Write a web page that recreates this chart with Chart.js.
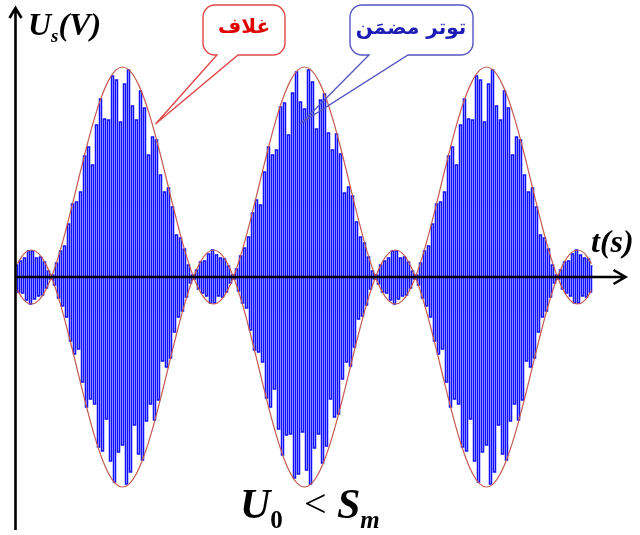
<!DOCTYPE html>
<html>
<head>
<meta charset="utf-8">
<script src="https://cdn.jsdelivr.net/npm/chart.js@4.4.1/dist/chart.umd.min.js"></script>
<style>
  html, body { margin: 0; padding: 0; background: #fff; overflow: hidden; }
  #wrap { width: 640px; height: 535px; position: relative; }
</style>
</head>
<body>
<div id="wrap"><canvas id="chart"></canvas></div>
<script>
// modulated voltage, one sample every 0.2 ms
const sigStep = 0.2;
const sigValues = [
  0.12,-0.15,0.16,-0.16,0.19,-0.23,0.26,-0.27,0.26,-0.22,
  0.19,-0.19,0.20,-0.18,0.15,-0.11,0.06,-0.02,0.02,-0.08,
  0.14,-0.21,0.26,-0.29,0.31,-0.40,0.53,-0.64,0.73,-0.77,
  0.75,-0.72,0.85,-1.05,1.21,-1.30,1.30,-1.22,1.12,-1.27,
  1.52,-1.70,1.78,-1.74,1.58,-1.42,1.57,-1.84,2.01,-2.05,
  1.97,-1.75,1.55,-1.68,1.93,-2.07,2.07,-1.95,1.71,-1.48,
  1.57,-1.77,1.86,-1.83,1.69,-1.44,1.22,-1.27,1.40,-1.43,
  1.37,-1.23,1.02,-0.84,0.85,-0.90,0.89,-0.81,0.70,-0.55,
  0.42,-0.40,0.39,-0.34,0.28,-0.20,0.12,-0.06,0.02,-0.02,
  0.07,
  -0.12,0.15,-0.16,0.16,-0.19,0.23,-0.26,0.27,-0.26,0.22,
  -0.19,0.19,-0.20,0.18,-0.15,0.11,-0.06,0.02,-0.02,0.08,
  -0.14,0.21,-0.26,0.29,-0.31,0.40,-0.53,0.64,-0.73,0.77,
  -0.75,0.72,-0.85,1.05,-1.21,1.30,-1.30,1.22,-1.12,1.27,
  -1.52,1.70,-1.78,1.74,-1.58,1.42,-1.57,1.84,-2.01,2.05,
  -1.97,1.75,-1.55,1.68,-1.93,2.07,-2.07,1.95,-1.71,1.48,
  -1.57,1.77,-1.86,1.83,-1.69,1.44,-1.22,1.27,-1.40,1.43,
  -1.37,1.23,-1.02,0.84,-0.85,0.90,-0.89,0.81,-0.70,0.55,
  -0.42,0.40,-0.39,0.34,-0.28,0.20,-0.12,0.06,-0.02,0.02,
  -0.07,
  0.12,-0.15,0.16,-0.16,0.19,-0.23,0.26,-0.27,0.26,-0.22,
  0.19,-0.19,0.20,-0.18,0.15,-0.11,0.06,-0.02,0.02,-0.08,
  0.14,-0.21,0.26,-0.29,0.31,-0.40,0.53,-0.64,0.73,-0.77,
  0.75,-0.72,0.85,-1.05,1.21,-1.30,1.30,-1.22,1.12,-1.27,
  1.52,-1.70,1.78,-1.74,1.58,-1.42,1.57,-1.84,2.01,-2.05,
  1.97,-1.75,1.55,-1.68,1.93,-2.07,2.07,-1.95,1.71,-1.48,
  1.57,-1.77,1.86,-1.83,1.69,-1.44,1.22,-1.27,1.40,-1.43,
  1.37,-1.23,1.02,-0.84,0.85,-0.90,0.89,-0.81,0.70,-0.55,
  0.42,-0.40,0.39,-0.34,0.28,-0.20,0.12,-0.06,0.02,-0.02,
  0.07,
  -0.12,0.15,-0.16,0.16,-0.19,0.23,-0.26,0.27,-0.26,0.22,
  -0.19,0.19,-0.20,0.18,-0.15,0.11
];

// envelope U0 + Sm.cos(...), one point every 0.7 ms starting at 0.1 ms
const envStart = 0.1;
const envStep = 0.7;
const envValues = [
  -0.134,-0.236,-0.270,-0.236,-0.134,0.028,0.242,0.495,0.772,1.058,1.335,1.588,1.802,
  1.964,2.066,2.100,2.066,1.964,1.802,1.588,1.335,1.058,0.772,0.495,0.242,0.028,
  -0.134,-0.236,-0.270,-0.236,-0.134,0.028,0.242,0.495,0.772,1.058,1.335,1.588,1.802,
  1.964,2.066,2.100,2.066,1.964,1.802,1.588,1.335,1.058,0.772,0.495,0.242,0.028,
  -0.134,-0.236,-0.270,-0.236,-0.134,0.028,0.242,0.495,0.772,1.058,1.335,1.588,1.802,
  1.964,2.066,2.100,2.066,1.964,1.802,1.588,1.335,1.058,0.772,0.495,0.242,0.028,
  -0.134,-0.236,-0.270,-0.236,-0.134
];

const labelEnvelope = 'غلاف';
const labelSignal = 'توتر مضمَن';

const sigPoints = sigValues.map((v, i) => ({ x: i * sigStep, y: v }));
const envTop = envValues.map((v, i) => ({ x: envStart + i * envStep, y: v }));
const envBottom = envValues.map((v, i) => ({ x: envStart + i * envStep, y: -v }));

const SERIF = '"Liberation Serif", "Times New Roman", serif';

// draws pieces of text one after the other: [text, font, baseline shift]
function textRun(ctx, x, base, parts) {
  for (const [txt, font, dy] of parts) {
    ctx.font = font;
    ctx.fillText(txt, x, base + dy);
    x += ctx.measureText(txt).width;
  }
  return x;
}

function bubble(ctx, box, a, b, tip, color) {
  const [x0, y0, x1, y1, r] = box;
  ctx.beginPath();
  ctx.moveTo(x0 + r, y0);
  ctx.lineTo(x1 - r, y0);
  ctx.arcTo(x1, y0, x1, y0 + r, r);
  ctx.lineTo(x1, y1 - r);
  ctx.arcTo(x1, y1, x1 - r, y1, r);
  ctx.lineTo(b, y1);
  ctx.lineTo(tip[0], tip[1]);
  ctx.lineTo(a, y1);
  ctx.lineTo(x0 + r, y1);
  ctx.arcTo(x0, y1, x0, y1 - r, r);
  ctx.lineTo(x0, y0 + r);
  ctx.arcTo(x0, y0, x0 + r, y0, r);
  ctx.closePath();
  ctx.strokeStyle = color;
  ctx.lineWidth = 1.4;
  ctx.stroke();
}

const decor = {
  id: 'decor',
  afterDatasetsDraw(chart) {
    const { ctx, scales: { x, y } } = chart;
    const px = v => x.getPixelForValue(v);
    const py = v => y.getPixelForValue(v);
    ctx.save();

    // axes with arrows
    ctx.strokeStyle = '#000';
    ctx.lineWidth = 2.6;
    const ax0 = px(-0.1), ax1 = px(60.9), ay = py(0);
    const yTop = py(2.69), yBot = py(-2.53);
    ctx.beginPath();
    ctx.moveTo(ax0, ay); ctx.lineTo(ax1, ay);
    ctx.moveTo(ax1 - 12, ay - 7); ctx.lineTo(ax1, ay); ctx.lineTo(ax1 - 12, ay + 7);
    ctx.moveTo(ax0, yBot); ctx.lineTo(ax0, yTop);
    ctx.moveTo(ax0 - 6, yTop + 10); ctx.lineTo(ax0, yTop); ctx.lineTo(ax0 + 6, yTop + 10);
    ctx.stroke();

    // axis titles
    ctx.fillStyle = '#000';
    ctx.textAlign = 'left';
    ctx.textBaseline = 'alphabetic';
    textRun(ctx, 28, 35, [
      ['U', `bold italic 32px ${SERIF}`, 0],
      ['s', `bold italic 19px ${SERIF}`, 7],
      ['(V)', `bold italic 32px ${SERIF}`, 0]
    ]);
    textRun(ctx, 591, 252, [
      ['t', `bold italic 32px ${SERIF}`, 0],
      ['(s)', `bold italic 32px ${SERIF}`, 0]
    ]);

    // condition under the graph
    textRun(ctx, 240, 518, [
      ['U', `bold italic 42px ${SERIF}`, 0],
      ['0', `bold 25px ${SERIF}`, 10]
    ]);
    ctx.font = `40px ${SERIF}`;
    ctx.fillText('<', 304, 517);
    textRun(ctx, 337, 518, [
      ['S', `bold italic 42px ${SERIF}`, 0],
      ['m', `bold italic 25px ${SERIF}`, 10]
    ]);

    // callouts
    bubble(ctx, [203, 5, 285, 55, 12], 217, 238, [px(13.9), py(1.53)], '#e04848');
    bubble(ctx, [350, 5, 473, 55, 12], 369, 408, [px(28.6), py(1.55)], '#5656c4');
    ctx.textAlign = 'center';
    ctx.textBaseline = 'middle';
    ctx.direction = 'rtl';
    ctx.font = 'bold 20px "DejaVu Sans", sans-serif';
    ctx.fillStyle = '#e00000';
    ctx.fillText(labelEnvelope, 244, 28);
    ctx.fillStyle = '#1c1cb4';
    ctx.fillText(labelSignal, 411, 29);

    ctx.restore();
  }
};

new Chart(document.getElementById('chart'), {
  type: 'line',
  data: {
    datasets: [
      { data: envTop, borderColor: '#c45a50', borderWidth: 1.2, pointRadius: 0, tension: 0.4 },
      { data: envBottom, borderColor: '#c45a50', borderWidth: 1.2, pointRadius: 0, tension: 0.4 },
      { data: sigPoints, borderColor: '#1010ff', borderWidth: 1.5, pointRadius: 0, stepped: 'middle' }
    ]
  },
  options: {
    responsive: true,
    maintainAspectRatio: false,
    animation: false,
    events: [],
    layout: { padding: 0 },
    scales: {
      x: { type: 'linear', min: -1.65, max: 62.35, display: false },
      y: { min: -2.58, max: 2.77, display: false }
    },
    plugins: { legend: { display: false }, tooltip: { enabled: false } }
  },
  plugins: [decor]
});
</script>
</body>
</html>
